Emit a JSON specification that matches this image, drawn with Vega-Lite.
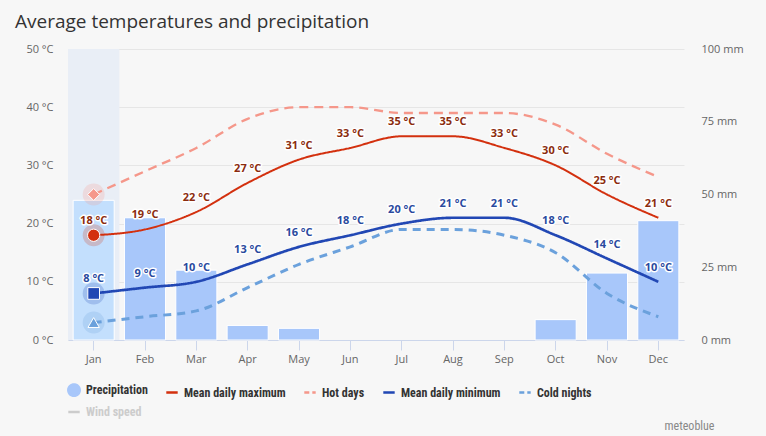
{
  "$schema": "https://vega.github.io/schema/vega-lite/v6.json",
  "width": 616,
  "height": 291,
  "autosize": {"type": "none"},
  "padding": {"left": 68, "top": 49, "right": 82, "bottom": 96},
  "background": "#f7f7f7",
  "title": {
    "text": "Average temperatures and precipitation",
    "anchor": "start",
    "frame": "group",
    "dx": -53,
    "offset": 11,
    "font": "Open Sans",
    "fontSize": 19,
    "fontWeight": "normal",
    "color": "#333333"
  },
  "config": {
    "view": {"stroke": null},
    "font": "Open Sans"
  },
  "data": {
    "values": [
      {"month": "Jan", "Precipitation": 48, "Mean daily maximum": 18, "Hot days": 25, "Mean daily minimum": 8, "Cold nights": 3},
      {"month": "Feb", "Precipitation": 42, "Mean daily maximum": 19, "Hot days": 29, "Mean daily minimum": 9, "Cold nights": 4},
      {"month": "Mar", "Precipitation": 24, "Mean daily maximum": 22, "Hot days": 33, "Mean daily minimum": 10, "Cold nights": 5},
      {"month": "Apr", "Precipitation": 5, "Mean daily maximum": 27, "Hot days": 38, "Mean daily minimum": 13, "Cold nights": 9},
      {"month": "May", "Precipitation": 4, "Mean daily maximum": 31, "Hot days": 40, "Mean daily minimum": 16, "Cold nights": 13},
      {"month": "Jun", "Precipitation": 0, "Mean daily maximum": 33, "Hot days": 40, "Mean daily minimum": 18, "Cold nights": 16},
      {"month": "Jul", "Precipitation": 0, "Mean daily maximum": 35, "Hot days": 39, "Mean daily minimum": 20, "Cold nights": 19},
      {"month": "Aug", "Precipitation": 0, "Mean daily maximum": 35, "Hot days": 39, "Mean daily minimum": 21, "Cold nights": 19},
      {"month": "Sep", "Precipitation": 0, "Mean daily maximum": 33, "Hot days": 39, "Mean daily minimum": 21, "Cold nights": 18},
      {"month": "Oct", "Precipitation": 7, "Mean daily maximum": 30, "Hot days": 37, "Mean daily minimum": 18, "Cold nights": 15},
      {"month": "Nov", "Precipitation": 23, "Mean daily maximum": 25, "Hot days": 32, "Mean daily minimum": 14, "Cold nights": 8},
      {"month": "Dec", "Precipitation": 41, "Mean daily maximum": 21, "Hot days": 28, "Mean daily minimum": 10, "Cold nights": 4}
    ]
  },
  "encoding": {
    "x": {
      "field": "month",
      "type": "ordinal",
      "sort": null,
      "scale": {"domain": ["Jan", "Feb", "Mar", "Apr", "May", "Jun", "Jul", "Aug", "Sep", "Oct", "Nov", "Dec"], "paddingInner": 0.2, "paddingOuter": 0.1},
      "axis": {
        "title": "meteoblue",
        "titleX": 646,
        "titleY": 85,
        "titleAlign": "right",
        "titleBaseline": "middle",
        "titleFont": "Roboto Condensed, DejaVu Sans Condensed, Liberation Sans",
        "titleFontSize": 12,
        "titleFontWeight": "normal",
        "titleColor": "#888888",
        "labelAngle": 0,
        "labelColor": "#666666",
        "labelFontSize": 11,
        "labelPadding": 3,
        "domainColor": "#ccd6eb",
        "tickColor": "#ccd6eb",
        "tickSize": 10,
        "grid": false
      }
    }
  },
  "layer": [
    {
      "layer": [
        {
          "transform": [{"filter": "datum.month === 'Jan'"}],
          "mark": {"type": "bar", "width": {"band": 1.25}, "color": "#e9eef6"},
          "encoding": {
            "y": {"datum": 0, "type": "quantitative", "scale": {"domain": [0, 100]},
              "axis": {"orient": "right", "values": [0, 25, 50, 75, 100], "labelExpr": "datum.value + ' mm'", "title": null, "grid": false, "domain": false, "ticks": false, "labelPadding": 17, "labelColor": "#666666", "labelFontSize": 11}},
            "y2": {"datum": 100}
          }
        },
        {
          "transform": [{"filter": "datum.Precipitation > 0"}],
          "mark": {"type": "bar", "stroke": "white", "strokeWidth": 1},
          "encoding": {
            "y": {"field": "Precipitation", "type": "quantitative", "scale": {"domain": [0, 100]},
              "axis": {"orient": "right", "values": [0, 25, 50, 75, 100], "labelExpr": "datum.value + ' mm'", "title": null, "grid": false, "domain": false, "ticks": false, "labelPadding": 17, "labelColor": "#666666", "labelFontSize": 11}},
            "color": {"condition": {"test": "datum.month === 'Jan'", "value": "#c3dffd"}, "value": "#a8c7fa"}
          }
        }
      ]
    },
    {
      "transform": [{"fold": ["Mean daily maximum", "Hot days", "Mean daily minimum", "Cold nights"], "as": ["series", "temp"]}],
      "encoding": {
        "y": {"field": "temp", "type": "quantitative", "scale": {"domain": [0, 50]},
          "axis": {"orient": "left", "values": [0, 10, 20, 30, 40, 50], "labelExpr": "datum.value + ' °C'", "title": null, "grid": true, "gridColor": "#e6e6e6", "domain": false, "ticks": false, "labelPadding": 15, "labelColor": "#666666", "labelFontSize": 11}}
      },
      "layer": [
        {
          "mark": {"type": "line", "interpolate": "monotone"},
          "encoding": {
            "color": {
              "field": "series",
              "type": "nominal",
              "scale": {
                "domain": ["Precipitation", "Mean daily maximum", "Hot days", "Mean daily minimum", "Cold nights", "Wind speed"],
                "range": ["#a8c7fa", "#d3300e", "#f5978a", "#2147b4", "#6ba1dc", "#cccccc"]
              },
              "legend": {
                "orient": "none",
                "legendX": -1,
                "legendY": 334,
                "direction": "horizontal",
                "columns": 5,
                "title": null,
                "symbolType": "stroke",
                "symbolSize": 130,
                "symbolStrokeWidth": 2.5,
                "columnPadding": 13,
                "rowPadding": 4,
                "labelFont": "Roboto Condensed, DejaVu Sans Condensed, Liberation Sans",
                "labelFontSize": 12,
                "labelFontWeight": "bold",
                "labelColor": "#333333",
                "labelOffset": 5,
                "encode": {
                  "symbols": {
                    "update": {
                      "shape": {"signal": "datum.value === 'Precipitation' ? 'circle' : 'stroke'"},
                      "fill": {"signal": "datum.value === 'Precipitation' ? '#a8c7fa' : 'transparent'"},
                      "strokeDash": {"signal": "(datum.value === 'Hot days' || datum.value === 'Cold nights') ? [5, 3] : [1, 0]"}
                    }
                  },
                  "labels": {
                    "update": {
                      "fill": {"signal": "datum.value === 'Wind speed' ? '#cccccc' : '#333333'"}
                    }
                  }
                }
              }
            },
            "strokeDash": {
              "field": "series",
              "type": "nominal",
              "scale": {"domain": ["Mean daily maximum", "Hot days", "Mean daily minimum", "Cold nights"], "range": [[1, 0], [9, 6], [1, 0], [8, 6]]},
              "legend": null
            },
            "strokeWidth": {
              "field": "series",
              "type": "nominal",
              "scale": {"domain": ["Mean daily maximum", "Hot days", "Mean daily minimum", "Cold nights"], "range": [2, 3, 2, 2]},
              "legend": null
            }
          }
        },
        {
          "transform": [{"filter": "datum.month === 'Jan'"}],
          "mark": {"type": "point", "shape": "circle", "filled": true, "size": 480, "opacity": 0.22},
          "encoding": {
            "color": {"field": "series", "type": "nominal", "legend": null}
          }
        },
        {
          "transform": [{"filter": "datum.month === 'Jan'"}],
          "mark": {"type": "point", "filled": true, "stroke": "white", "strokeWidth": 1, "opacity": 1},
          "encoding": {
            "color": {"field": "series", "type": "nominal", "legend": null},
            "shape": {"field": "series", "type": "nominal", "scale": {"domain": ["Mean daily maximum", "Hot days", "Mean daily minimum", "Cold nights"], "range": ["circle", "diamond", "square", "triangle-up"]}, "legend": null},
            "size": {"field": "series", "type": "nominal", "scale": {"domain": ["Mean daily maximum", "Hot days", "Mean daily minimum", "Cold nights"], "range": [150, 130, 180, 200]}, "legend": null}
          }
        },
        {
          "transform": [{"filter": "datum.series === 'Mean daily maximum' || datum.series === 'Mean daily minimum'"}],
          "mark": {"type": "text", "dy": -14, "fontSize": 11, "fontWeight": "bold", "stroke": "white", "strokeWidth": 3, "strokeJoin": "round", "text": {"expr": "datum.temp + ' °C'"}, "color": "white"},
          "encoding": {}
        },
        {
          "transform": [{"filter": "datum.series === 'Mean daily maximum' || datum.series === 'Mean daily minimum'"}],
          "mark": {"type": "text", "dy": -14, "fontSize": 11, "fontWeight": "bold", "text": {"expr": "datum.temp + ' °C'"}},
          "encoding": {
            "color": {"condition": {"test": "datum.series === 'Mean daily maximum'", "value": "#8b2c0e"}, "value": "#2a4a9e"}
          }
        }
      ]
    }
  ],
  "resolve": {"scale": {"y": "independent"}}
}
